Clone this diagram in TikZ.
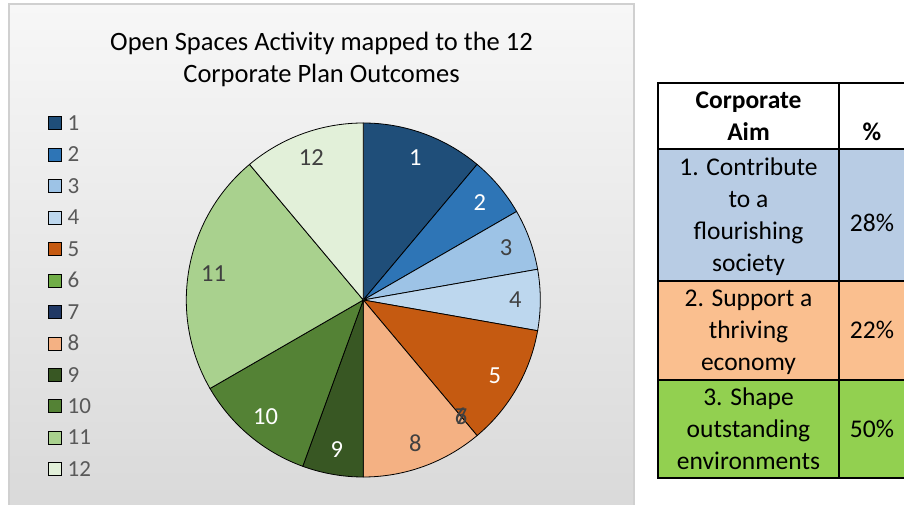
\documentclass[tikz,border=0pt]{standalone}
\usepackage{fontspec}
\setmainfont{Carlito}
\definecolor{p1}{HTML}{1F4E79}
\definecolor{p2}{HTML}{2E75B6}
\definecolor{p3}{HTML}{9DC3E6}
\definecolor{p4}{HTML}{BDD7EE}
\definecolor{p5}{HTML}{C55A11}
\definecolor{p6}{HTML}{70AD47}
\definecolor{p7}{HTML}{203864}
\definecolor{p8}{HTML}{F4B183}
\definecolor{p9}{HTML}{385723}
\definecolor{p10}{HTML}{548235}
\definecolor{p11}{HTML}{A9D18E}
\definecolor{p12}{HTML}{E2F0D9}
\definecolor{labgray}{HTML}{404040}
\definecolor{leggray}{HTML}{595959}
\definecolor{bgtop}{HTML}{F7F7F7}
\definecolor{bgbot}{HTML}{D9D9D9}
\definecolor{bgborder}{HTML}{D0D0D0}
\definecolor{rowblue}{HTML}{B8CCE4}
\definecolor{roworange}{HTML}{FABF8F}
\definecolor{rowgreen}{HTML}{92D050}
\tikzset{
  titletext/.style={font=\fontsize{26.5}{32}\selectfont, text=black, inner sep=0pt, anchor=base},
  pielab/.style={font=\fontsize{24.5}{29}\selectfont, inner sep=0pt},
  legbox/.style={draw=black, line width=0.8pt, minimum size=13pt, inner sep=0pt},
  legtext/.style={font=\fontsize{23}{27}\selectfont, text=leggray, inner sep=0pt, anchor=base west},
  celltext/.style={font=\fontsize{25.5}{32}\selectfont, text=black, inner sep=0pt, anchor=base},
  headtext/.style={celltext, font=\fontsize{25.5}{32}\selectfont\bfseries},
  slice/.style={draw=black, line width=0.8pt},
  grid/.style={draw=black, line width=2pt}
}
\begin{document}
\begin{tikzpicture}[x=1pt,y=1pt]
\useasboundingbox (0,0) rectangle (904,505);
\fill[white] (0,0) rectangle (904,505);
% chart area
\shade[top color=bgtop, bottom color=bgbot] (9,-10) rectangle (634,501);
\draw[bgborder, line width=2pt] (9,-10) rectangle (634,501);
% title
\node[titletext] (title1) at (321.5,454.5) {Open Spaces Activity mapped to the 12};
\node[titletext] (title2) at (321.5,422.5) {Corporate Plan Outcomes};
% pie
\coordinate (pc) at (363.3,205);
\foreach \a/\b/\c in {0/40/p1, 40/60/p2, 60/80/p3, 80/100/p4, 100/140/p5, 140/180/p8, 180/200/p9, 200/240/p10, 240/320/p11, 320/360/p12}{
  \filldraw[slice, fill=\c] (pc) -- ++({90-\a}:177) arc[start angle={90-\a}, end angle={90-\b}, radius=177] -- cycle;
}
\foreach \m/\t/\col in {20/1/white, 50/2/white, 70/3/labgray, 90/4/labgray, 120/5/white, 140/6/labgray, 140/7/labgray, 160/8/labgray, 190/9/white, 220/10/white, 280/11/labgray, 340/12/labgray}{
  \path (pc) ++({90-\m}:152) node[pielab, text=\col] (lab\t) {\t};
}
% legend
\foreach \i in {1,...,12}{
  \node[legbox, fill=p\i] (lb\i) at (55.3,{381.7-31.45*(\i-1)}) {};
  \node[legtext] (lt\i) at (67.5,{381.7-31.45*(\i-1)-7.2}) {\i};
}
% table
\fill[white] (658,356) rectangle (906,422);
\fill[rowblue] (658,224) rectangle (906,356);
\fill[roworange] (658,125) rectangle (906,224);
\fill[rowgreen] (658,27) rectangle (906,125);
\draw[grid] (658,27) rectangle (906,422);
\draw[grid] (839,27) -- (839,422);
\draw[grid] (658,356) -- (906,356);
\draw[grid] (658,224) -- (906,224);
\draw[grid] (658,125) -- (906,125);
% header
\node[headtext] (h1a) at (748.5,396) {Corporate};
\node[headtext] (h1b) at (748.5,364) {Aim};
\node[headtext] (h2) at (872,364) {\%};
% row 1
\node[celltext] (r1a) at (748.5,329) {1. Contribute};
\node[celltext] (r1b) at (748.5,297) {to a};
\node[celltext] (r1c) at (748.5,265) {flourishing};
\node[celltext] (r1d) at (748.5,233) {society};
\node[celltext] (r1p) at (872,273) {28\%};
% row 2
\node[celltext] (r2a) at (748.5,198) {2. Support a};
\node[celltext] (r2b) at (748.5,166) {thriving};
\node[celltext] (r2c) at (748.5,134) {economy};
\node[celltext] (r2p) at (872,166) {22\%};
% row 3
\node[celltext] (r3a) at (748.5,99) {3. Shape};
\node[celltext] (r3b) at (748.5,67) {outstanding};
\node[celltext] (r3c) at (748.5,35) {environments};
\node[celltext] (r3p) at (872,67) {50\%};
\end{tikzpicture}
\end{document}
